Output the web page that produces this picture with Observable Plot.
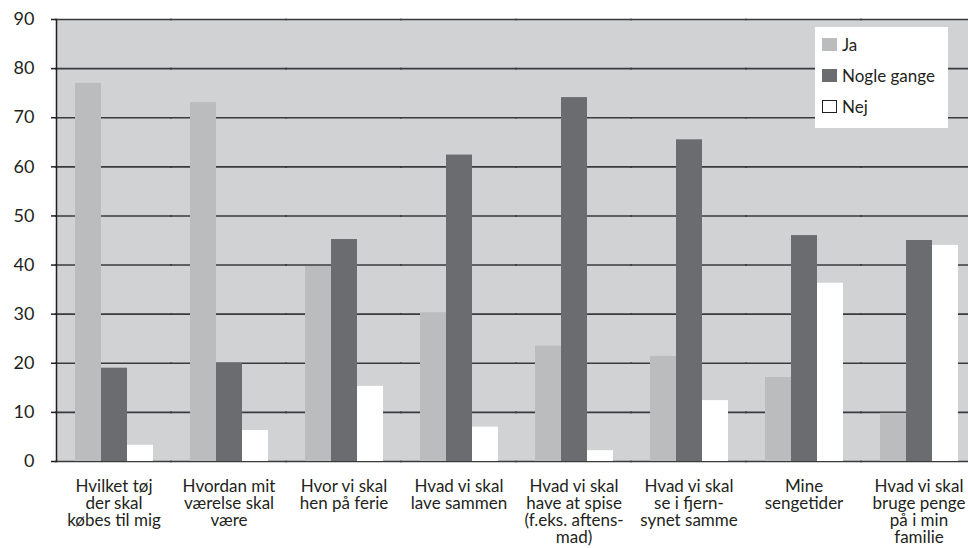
<!DOCTYPE html>
<html>
<head>
<meta charset="utf-8">
<script src="https://cdn.jsdelivr.net/npm/d3@7"></script>
<script src="https://cdn.jsdelivr.net/npm/@observablehq/plot@0.6"></script>
<style>
  html, body { margin: 0; padding: 0; background: white; overflow: hidden; }
  #wrap { position: relative; width: 968px; height: 548px; font-family: Lato, "Noto Sans", sans-serif; color: #231f20; }
  #legend { position: absolute; left: 815px; top: 27px; width: 133px; height: 101px; background: white; font-size: 17px; }
  .item { position: absolute; left: 7px; display: flex; align-items: center; }
  .sw { width: 15px; height: 13px; margin-right: 5px; box-sizing: border-box; }
</style>
</head>
<body>
<div id="wrap"><div id="legend"></div></div>
<script>
const categories = ["toej", "vaerelse", "ferie", "lave", "spise", "tv", "senge", "penge"];
const categoryLabels = [
  "Hvilket tøj\nder skal\nkøbes til mig",
  "Hvordan mit\nværelse skal\nvære",
  "Hvor vi skal\nhen på ferie",
  "Hvad vi skal\nlave sammen",
  "Hvad vi skal\nhave at spise\n(f.eks. aftens-\nmad)",
  "Hvad vi skal\nse i fjern-\nsynet samme",
  "Mine\nsengetider",
  "Hvad vi skal\nbruge penge\npå i min\nfamilie"
];
const series = ["Ja", "Nogle gange", "Nej"];
const ja    = [77.0, 73.1, 39.7, 30.3, 23.5, 21.4, 17.1, 9.8];
const nogle = [19.0, 20.0, 45.2, 62.4, 74.1, 65.5, 46.0, 45.0];
const nej   = [3.3, 6.3, 15.3, 7.0, 2.2, 12.4, 36.3, 44.0];
const yTicks = [0, 10, 20, 30, 40, 50, 60, 70, 80, 90];
const seriesColors = ["#bbbcbe", "#6b6c70", "#ffffff"];
const plotBackground = "#d1d2d4";
const gridColor = "#3a3a3c";

const values = [ja, nogle, nej];
const data = categories.flatMap((c, i) => series.map((s, j) => ({cat: c, s, v: values[j][i]})));
const labelOf = Object.fromEntries(categories.map((c, i) => [c, categoryLabels[i]]));

const chart = Plot.plot({
  width: 968,
  height: 548,
  marginLeft: 54,
  marginRight: -9,
  marginTop: 19,
  marginBottom: 87,
  style: {fontFamily: "Lato, 'Noto Sans', sans-serif", fontSize: "17px", color: "#231f20", background: "white"},
  fx: {domain: categories, padding: 0, label: null},
  x: {domain: series, paddingInner: 0, paddingOuter: 0.63, axis: null},
  y: {domain: [0, 90], label: null},
  color: {domain: series, range: seriesColors},
  marks: [
    Plot.frame({fill: plotBackground, stroke: null, facet: "super"}),
    Plot.ruleY(yTicks, {stroke: gridColor, strokeWidth: 1.6, insetLeft: -1, insetRight: -1}),
    Plot.barY(data, {fx: "cat", x: "s", y: "v", fill: "s"}),
    Plot.frame({anchor: "left", facet: "super", stroke: "#231f20", strokeWidth: 1.5}),
    Plot.axisY({ticks: yTicks, tickSize: 5, tickPadding: 17, fontSize: 18, stroke: "#231f20", strokeWidth: 1.5, label: null}),
    Plot.axisFx({anchor: "bottom", tickSize: 0, tickPadding: 18, tickFormat: d => labelOf[d], lineHeight: 1, fontSize: 17, label: null})
  ]
});
document.getElementById("wrap").prepend(chart);

const legend = document.getElementById("legend");
series.forEach((s, i) => {
  const item = document.createElement("div");
  item.className = "item";
  item.style.top = (7 + i * 31) + "px";
  const sw = document.createElement("div");
  sw.className = "sw";
  sw.style.background = seriesColors[i];
  if (i === 2) sw.style.border = "1px solid #231f20";
  const t = document.createElement("span");
  t.textContent = s;
  item.append(sw, t);
  legend.append(item);
});
</script>
</body>
</html>
